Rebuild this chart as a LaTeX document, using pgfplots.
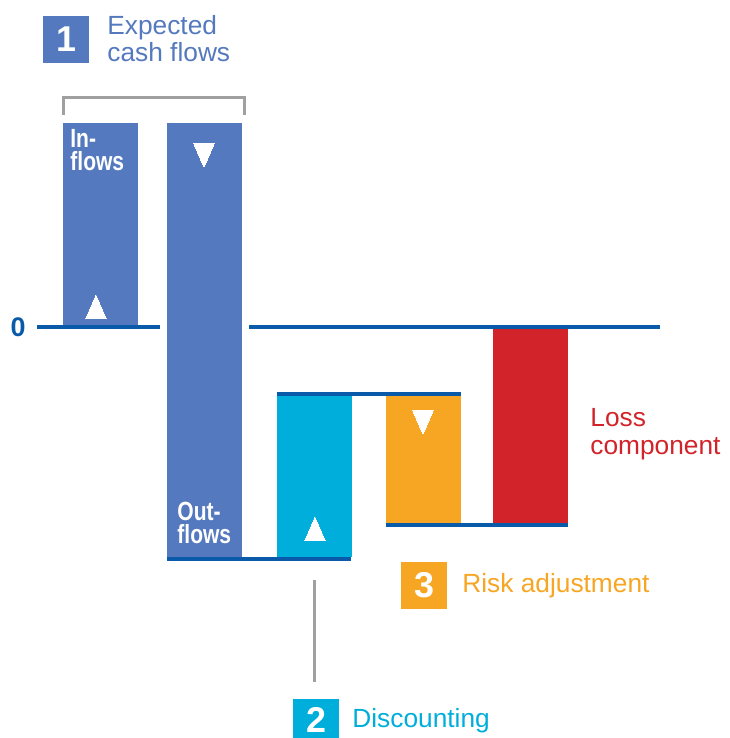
\documentclass[border=0pt]{standalone}
\usepackage{pgfplots}
\pgfplotsset{compat=1.18}
\usepackage{graphicx}
\usepackage{fontspec}
\setmainfont{Liberation Sans}
\definecolor{barblue}{RGB}{84,121,190}
\definecolor{cyanb}{RGB}{0,174,219}
\definecolor{orangeb}{RGB}{246,166,35}
\definecolor{redb}{RGB}{210,35,42}
\definecolor{lineblue}{RGB}{10,90,170}
\definecolor{grayb}{RGB}{160,160,160}
\newcommand\cond[1]{\scalebox{0.8}[1]{\bfseries #1}}
\begin{document}
\fontsize{13.2}{15}\selectfont
\begin{tikzpicture}
\begin{axis}[
  width=365bp, height=369bp, scale only axis,
  xmin=0, xmax=730, ymin=-411, ymax=327,
  hide axis, clip=false,
]
\path (axis cs:0,-411) rectangle (axis cs:730,327);
% bars (waterfall): inflows, outflows, discounting, risk adjustment, loss component
\addplot[fill=barblue, draw=none] coordinates {(63,0) (138,0) (138,204) (63,204)} -- cycle;
\addplot[fill=barblue, draw=none] coordinates {(167,204) (242,204) (242,-230) (167,-230)} -- cycle;
\addplot[fill=cyanb, draw=none] coordinates {(277,-230) (352,-230) (352,-69) (277,-69)} -- cycle;
\addplot[fill=orangeb, draw=none] coordinates {(386,-69) (461,-69) (461,-196) (386,-196)} -- cycle;
\addplot[fill=redb, draw=none] coordinates {(493,0) (568,0) (568,-196) (493,-196)} -- cycle;
% level lines
\addplot[lineblue, line width=2bp] coordinates {(37,0) (160,0)};
\addplot[lineblue, line width=2bp] coordinates {(249,0) (660,0)};
\addplot[lineblue, line width=2bp] coordinates {(167,-232) (351,-232)};
\addplot[lineblue, line width=2bp] coordinates {(277,-67) (461,-67)};
\addplot[lineblue, line width=2bp] coordinates {(386,-198) (568,-198)};
% connectors
\addplot[grayb, line width=1.5bp] coordinates {(64,212) (64,229) (245,229) (245,212)};
\addplot[grayb, line width=1.5bp] coordinates {(315,-253) (315,-355)};
% arrows (triangles)
\addplot[white, only marks, mark=triangle*, mark size=6bp, mark options={fill=white, draw=white, line width=0pt, yscale=1.33}] coordinates {(96,16) (315,-206)};
\addplot[white, only marks, mark=triangle*, mark size=6bp, mark options={fill=white, draw=white, line width=0pt, yscale=1.33, rotate=180}] coordinates {(204,176) (423,-91)};
% labels
\node[anchor=center, text=lineblue, inner sep=0, font=\fontsize{13.5}{15}\selectfont\bfseries] at (axis cs:18,0) {0};
\node[anchor=base west, text=white, inner sep=0] at (axis cs:70,179) {\cond{In-}};
\node[anchor=base west, text=white, inner sep=0] at (axis cs:70,156) {\cond{flows}};
\node[anchor=base west, text=white, inner sep=0] at (axis cs:177,-194) {\cond{Out-}};
\node[anchor=base west, text=white, inner sep=0] at (axis cs:177,-217) {\cond{flows}};
% number boxes
\fill[barblue] (axis cs:43,311) rectangle (axis cs:89,264);
\node[text=white, inner sep=0, font=\fontsize{18}{18}\selectfont\bfseries] at (axis cs:66,287.5) {1};
\node[anchor=base west, text=barblue, inner sep=0] at (axis cs:107,292) {Expected};
\node[anchor=base west, text=barblue, inner sep=0] at (axis cs:107,265) {cash flows};
\fill[cyanb] (axis cs:293,-372) rectangle (axis cs:339,-411);
\node[text=white, inner sep=0, font=\fontsize{18}{18}\selectfont\bfseries] at (axis cs:316,-393) {2};
\node[anchor=base west, text=cyanb, inner sep=0] at (axis cs:352,-400) {Discounting};
\fill[orangeb] (axis cs:401,-235) rectangle (axis cs:447,-282);
\node[text=white, inner sep=0, font=\fontsize{18}{18}\selectfont\bfseries] at (axis cs:424,-258.5) {3};
\node[anchor=base west, text=orangeb, inner sep=0] at (axis cs:462,-266) {Risk adjustment};
\node[anchor=base west, text=redb, inner sep=0] at (axis cs:590,-100) {Loss};
\node[anchor=base west, text=redb, inner sep=0] at (axis cs:590,-128) {component};
\end{axis}
\end{tikzpicture}
\end{document}
